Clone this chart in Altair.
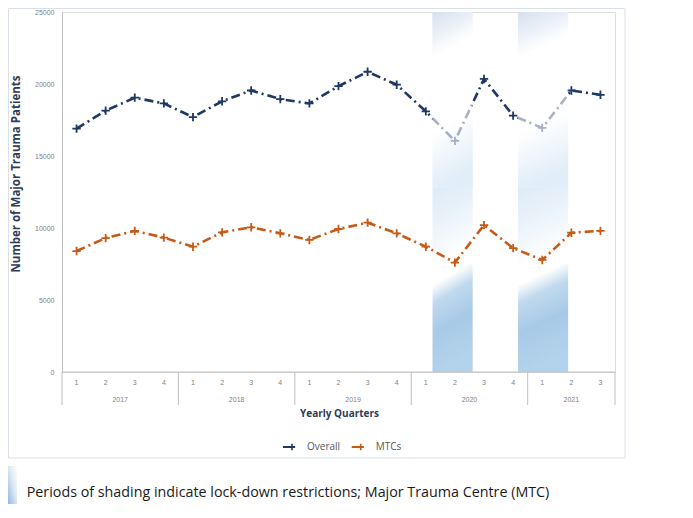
import altair as alt
import pandas as pd

# ---------------- data ----------------
quarters = ["1", "2", "3", "4", "1", "2", "3", "4", "1", "2", "3", "4",
            "1", "2", "3", "4", "1", "2", "3"]
years = ["2017"] * 4 + ["2018"] * 4 + ["2019"] * 4 + ["2020"] * 4 + ["2021"] * 3
overall = [16900, 18150, 19050, 18650, 17700, 18800, 19550, 18950, 18650, 19850,
           20850, 19950, 18100, 16050, 20350, 17800, 16950, 19550, 19250]
mtcs = [8400, 9300, 9800, 9330, 8700, 9700, 10050, 9630, 9170, 9930,
        10370, 9630, 8700, 7600, 10200, 8600, 7780, 9670, 9800]
series_names = ["Overall", "MTCs"]
series_colors = ["#1f3864", "#c65b17"]
lockdown_start = [12.23, 15.17]
lockdown_end = [13.61, 16.89]
shade_split = 12800
y_ticks = [0, 5000, 10000, 15000, 20000, 25000]
y_title = "Number of Major Trauma Patients"
x_title = "Yearly Quarters"
caption = "Periods of shading indicate lock-down restrictions; Major Trauma Centre (MTC)"

# ---------------- tables ----------------
idx = list(range(len(quarters)))
df = pd.DataFrame({
    "idx": idx * 2,
    "series": [series_names[0]] * len(idx) + [series_names[1]] * len(idx),
    "value": overall + mtcs,
})
df_q = pd.DataFrame({"idx": idx, "quarter": quarters, "year": years})
grp = df_q.groupby("year", sort=False)["idx"].agg(["min", "max"]).reset_index()
grp["center"] = (grp["min"] + grp["max"]) / 2
separators = pd.DataFrame({"pos": [-0.5] + [m + 0.5 for m in grp["max"]]})
baseline = pd.DataFrame({"a": [-0.5], "b": [len(idx) - 0.5]})
bands = pd.DataFrame({"start": lockdown_start, "end": lockdown_end})

W, H = 553, 360
FONT = "Open Sans"
xs = alt.Scale(domain=[-0.5, len(idx) - 0.5], nice=False, zero=False)
ys = alt.Scale(domain=[0, 25000], nice=False)
yaxis = alt.Axis(values=y_ticks, grid=False, ticks=False, domainColor="#bfbfbf",
                 labelFont="Liberation Sans", labelFontSize=7, labelColor="#7f7f7f",
                 labelPadding=8, title=None, format="d")

g_up = alt.LinearGradient(gradient="linear", x1=0, y1=0, x2=0.13, y2=1, stops=[
    alt.GradientStop(color="#d6e1ee", offset=0),
    alt.GradientStop(color="#e8eef6", offset=0.12),
    alt.GradientStop(color="#ffffff", offset=0.26),
    alt.GradientStop(color="#ffffff", offset=0.68),
    alt.GradientStop(color="#e1edf8", offset=1),
])
g_low = alt.LinearGradient(gradient="linear", x1=0, y1=0, x2=0.13, y2=1, stops=[
    alt.GradientStop(color="#dcebf7", offset=0),
    alt.GradientStop(color="#eaf2fa", offset=0.2),
    alt.GradientStop(color="#ffffff", offset=0.44),
    alt.GradientStop(color="#ffffff", offset=0.52),
    alt.GradientStop(color="#c0d9ee", offset=0.62),
    alt.GradientStop(color="#a8cae7", offset=0.78),
    alt.GradientStop(color="#b3d2eb", offset=1),
])
g_icon = alt.LinearGradient(gradient="linear", x1=1, y1=0, x2=0, y2=1, stops=[
    alt.GradientStop(color="#ffffff", offset=0),
    alt.GradientStop(color="#dfe9f4", offset=0.45),
    alt.GradientStop(color="#94b7dd", offset=1),
])

one = alt.Data(values=[{"k": 0}])

box = alt.Chart(one).mark_rect(fillOpacity=0, stroke="#d9e0e8", strokeWidth=1).encode(
    x=alt.value(-53.5), x2=alt.value(563), y=alt.value(-3.5), y2=alt.value(446))

band_low = alt.Chart(bands).mark_rect(fill=g_low).encode(
    x=alt.X("start:Q", scale=xs, axis=None), x2="end:Q",
    y=alt.Y(datum=0, scale=ys, axis=yaxis), y2=alt.Y2(datum=shade_split))
band_up = alt.Chart(bands).mark_rect(fill=g_up).encode(
    x=alt.X("start:Q", scale=xs, axis=None), x2="end:Q",
    y=alt.Y(datum=shade_split, scale=ys, axis=yaxis), y2=alt.Y2(datum=25000))
band_over = alt.Chart(bands).mark_rect(fill=g_up, opacity=0.62).encode(
    x=alt.X("start:Q", scale=xs, axis=None), x2="end:Q",
    y=alt.Y(datum=shade_split, scale=ys, axis=yaxis), y2=alt.Y2(datum=25000))

base_rule = alt.Chart(baseline).mark_rule(color="#bfbfbf", strokeWidth=1).encode(
    x=alt.X("a:Q", scale=xs, axis=None), x2="b:Q", y=alt.value(H))
sep_rule = alt.Chart(separators).mark_rule(color="#bfbfbf", strokeWidth=1).encode(
    x=alt.X("pos:Q", scale=xs, axis=None), y=alt.value(H), y2=alt.value(H + 33))

color = alt.Color("series:N", scale=alt.Scale(domain=series_names, range=series_colors),
                  legend=None)
lines = alt.Chart(df).mark_line(strokeWidth=2.6, strokeDash=[9, 4, 2, 4]).encode(
    x=alt.X("idx:Q", scale=xs, axis=None),
    y=alt.Y("value:Q", scale=ys, axis=yaxis),
    color=color, detail="series:N")
PLUS = "M-1,0L1,0M0,-1L0,1"
points = alt.Chart(df).mark_point(shape=PLUS, filled=False, size=70, strokeWidth=1.8,
                                  opacity=1).encode(
    x=alt.X("idx:Q", scale=xs, axis=None),
    y=alt.Y("value:Q", scale=ys, axis=yaxis),
    color=color)

q_text = alt.Chart(df_q).mark_text(font="Liberation Sans", fontSize=7, color="#7f7f7f",
                                   baseline="middle").encode(
    x=alt.X("idx:Q", scale=xs, axis=None), y=alt.value(H + 11), text="quarter:N")
y_text = alt.Chart(grp).mark_text(font="Liberation Sans", fontSize=7, color="#7f7f7f",
                                  baseline="middle").encode(
    x=alt.X("center:Q", scale=xs, axis=None), y=alt.value(H + 28), text="year:N")

ytitle = alt.Chart(alt.Data(values=[{"t": y_title}])).mark_text(
    font=FONT, fontSize=11.5, fontWeight="bold", color="#2e3c57", angle=270,
    baseline="middle", align="center").encode(
    x=alt.value(-45), y=alt.value(162), text="t:N")
xtitle = alt.Chart(alt.Data(values=[{"t": x_title}])).mark_text(
    font=FONT, fontSize=10, fontWeight="bold", color="#2e3c57",
    baseline="middle", align="center").encode(
    x=alt.value(277.5), y=alt.value(402), text="t:N")
cap = alt.Chart(alt.Data(values=[{"t": caption}])).mark_text(
    font=FONT, fontSize=14.3, color="#1a1a1a", baseline="middle", align="left").encode(
    x=alt.value(-35.3), y=alt.value(480.7), text="t:N")
icon = alt.Chart(one).mark_rect(fill=g_icon).encode(
    x=alt.value(-54), x2=alt.value(-45), y=alt.value(454), y2=alt.value(492))

legend_layers = []
LY = 435
for name, col, lx in zip(series_names, series_colors, [221, 289.7]):
    d = alt.Data(values=[{"s": name}])
    legend_layers.append(alt.Chart(d).mark_rule(color=col, strokeWidth=2).encode(
        x=alt.value(lx), x2=alt.value(lx + 12), y=alt.value(LY)))
    legend_layers.append(alt.Chart(d).mark_point(shape=PLUS, filled=False, color=col,
                                                 size=40, strokeWidth=1.6, opacity=1).encode(
        x=alt.value(lx + 9), y=alt.value(LY)))
    legend_layers.append(alt.Chart(d).mark_text(font=FONT, fontSize=10, color="#595959",
                                                align="left", baseline="middle").encode(
        x=alt.value(lx + 24), y=alt.value(LY), text="s:N"))

chart = alt.layer(
    box, band_low, band_up, base_rule, sep_rule, lines, points, band_over,
    q_text, y_text, ytitle, xtitle, cap, icon, *legend_layers
).properties(
    width=W, height=H,
    padding={"left": 54, "top": 4, "right": 65, "bottom": 132},
    autosize=alt.AutoSizeParams(type="none"),
).configure_view(stroke=None).configure(background="white")

chart.save("out.html", embed_options={"renderer": "svg", "actions": False})
